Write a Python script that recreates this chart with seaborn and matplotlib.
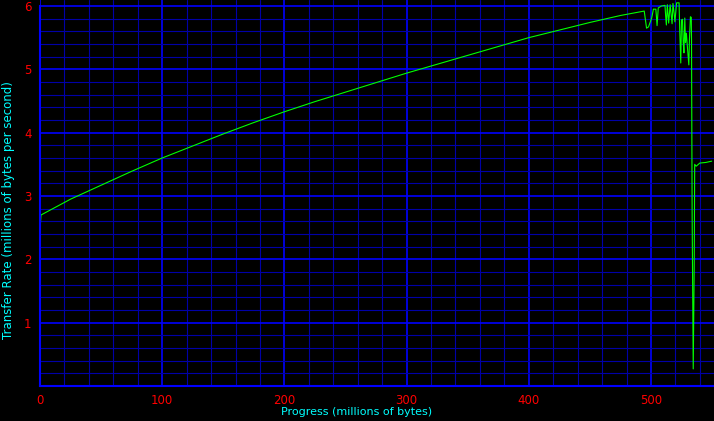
import numpy as np
import pandas as pd
import matplotlib
matplotlib.use("Agg")
import matplotlib.pyplot as plt
from matplotlib.ticker import MultipleLocator
import seaborn as sns

# progress (millions of bytes) and transfer rate (millions of bytes per second)
progress = [0, 0.8, 25, 50, 75, 100, 125, 150, 175, 200, 225, 250, 275, 300,
            325, 350, 375, 400, 425, 450, 475, 494.5,
            496.4, 498, 500.6, 502, 504, 504.5, 505, 506, 508.5, 511.5, 512, 512.6,
            513.4, 514.5, 515.7, 517.3, 518, 519, 519.6, 521, 522, 523, 523.6,
            524.4, 525, 525.8, 526.4, 527, 527.7, 528.3, 529, 530, 531, 531.5,
            532.3, 533, 533.2, 533.7, 534.6, 535.4, 535.8, 537, 540, 545, 549.7]
rate = [2.45, 2.70, 2.95, 3.17, 3.39, 3.60, 3.79, 3.98, 4.16, 4.33, 4.49, 4.64, 4.79, 4.94,
        5.08, 5.22, 5.36, 5.50, 5.62, 5.74, 5.85, 5.92,
        5.65, 5.67, 5.81, 5.95, 5.95, 5.83, 5.69, 5.97, 6.00, 6.01, 5.85, 5.70,
        6.02, 5.73, 6.02, 5.72, 6.04, 5.88, 5.75, 6.05, 6.05, 6.05, 5.59,
        5.10, 5.78, 5.79, 5.42, 5.26, 5.81, 5.42, 5.57, 5.31, 5.07, 5.47,
        5.83, 5.82, 5.47, 2.70, 0.27, 1.90, 3.50, 3.47, 3.52, 3.53, 3.55]

x_ticks = [0, 100, 200, 300, 400, 500]
y_ticks = [1, 2, 3, 4, 5, 6]

df = pd.DataFrame({"progress": progress, "rate": rate})

sns.set_style("dark", {"axes.facecolor": "black", "figure.facecolor": "black",
                       "axes.edgecolor": "#0000ff", "grid.color": "#0000ff"})
plt.rcParams["font.family"] = ["DejaVu Sans"]

fig = plt.figure(figsize=(7.14, 4.21), dpi=100)
# axes run to the top of the image so the spikes just above 6 stay visible
ax = fig.add_axes([40 / 714, 35 / 421, 674 / 714, 386 / 421])

sns.lineplot(data=df, x="progress", y="rate", color="#00ff00", linewidth=0.8,
             sort=False, ax=ax)

ax.set_xlim(0, 551.6)
ax.set_ylim(0, 386 * 6 / 380)
ax.set_xticks(x_ticks)
ax.set_yticks(y_ticks)
ax.xaxis.set_minor_locator(MultipleLocator(20))
ax.yaxis.set_minor_locator(MultipleLocator(0.2))
ax.grid(True, which="major", color="#0000ff", linewidth=1.2)
ax.grid(True, which="minor", color="#0000a8", linewidth=0.8)
ax.set_axisbelow(True)
ax.tick_params(which="both", length=0, colors="red", labelsize=8.5, pad=6)

for side in ["top", "right"]:
    ax.spines[side].set_visible(False)
for side in ["left", "bottom"]:
    ax.spines[side].set_color("#0000ff")
    ax.spines[side].set_linewidth(1.5)
ax.spines["left"].set_bounds(0, 6)

ax.set_xlabel("Progress (millions of bytes)", color="#00ffff", fontsize=8, va="center")
ax.set_ylabel("Transfer Rate (millions of bytes per second)", color="#00ffff",
              fontsize=8.5, va="center")
ax.xaxis.set_label_coords((357 - 40) / 674, (386 - 412) / 386)
ax.yaxis.set_label_coords((8.5 - 40) / 674, (386 - 210) / 386)

fig.savefig("out.png", dpi=100, facecolor="black")
